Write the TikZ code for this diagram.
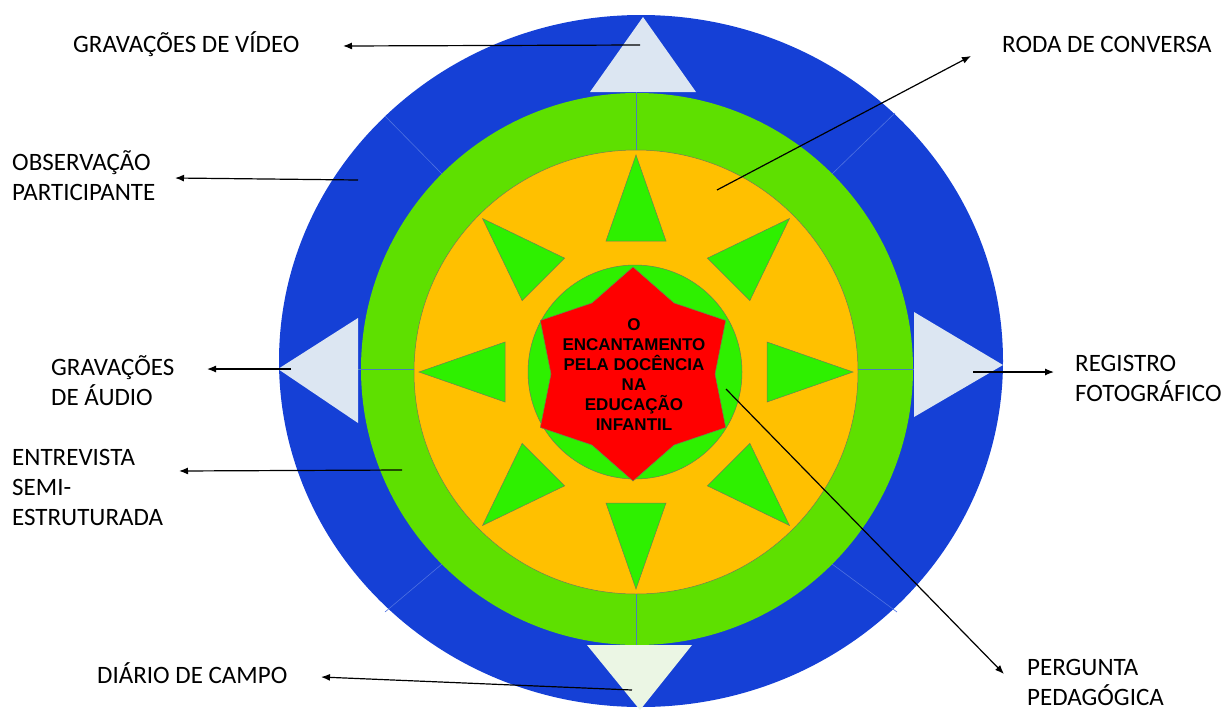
\documentclass[tikz,border=0pt]{standalone}
\usepackage{fontspec}
\setmainfont{Carlito}
\newfontfamily\arialb{Liberation Sans}[BoldFont={Liberation Sans Bold}]
\usetikzlibrary{arrows.meta}
\definecolor{ringblue}{HTML}{1540D6}
\definecolor{ringgreen}{HTML}{5EE000}
\definecolor{ringorange}{HTML}{FFC000}
\definecolor{brightgreen}{HTML}{2EF000}
\definecolor{lightblue}{HTML}{DCE6F2}
\definecolor{lightgreen}{HTML}{EBF6E4}
\definecolor{sepline}{HTML}{4A7EBB}
\definecolor{faintline}{HTML}{4F72E2}
\definecolor{outl}{HTML}{6F7F55}
\tikzset{
  lbl/.style={font=\fontsize{25}{30}\selectfont, align=left, inner sep=0pt, anchor=base west},
  arr/.style={draw=black, line width=1.2pt, -{Latex[length=9pt,width=7pt]}},
  tri/.style={fill=brightgreen, draw=outl, line width=0.5pt},
  sep/.style={draw=sepline, line width=0.7pt},
  faint/.style={draw=faintline, line width=0.6pt}
}
\begin{document}
\begin{tikzpicture}[x=1pt,y=-1pt]
\useasboundingbox (0,0) rectangle (1227,710);
% rings
\fill[ringblue] (641,361) ellipse [x radius=362, y radius=346];
\fill[ringgreen] (637,369) circle [radius=276];
\filldraw[fill=ringorange, draw=outl, line width=0.5pt] (636,372) circle [radius=222];
% faint separators in blue ring
\draw[faint] (442,174) -- (385,116);
\draw[faint] (832,174) -- (895,113);
\draw[faint] (442,564) -- (385,612);
\draw[faint] (832,564) -- (897,612);
% separator lines in green ring
\draw[sep] (636,92) -- (636,150);
\draw[sep] (636,594) -- (636,645);
\draw[sep] (358,369) -- (414,369);
\draw[sep] (858,369) -- (914,369);
% light triangles
\fill[lightblue] (643,17) -- (590,92) -- (696,92) -- cycle;
\fill[lightblue] (278,369) -- (358,318) -- (358,423) -- cycle;
\fill[lightblue] (1003,365) -- (914,312) -- (914,417) -- cycle;
\fill[lightgreen] (640,710) -- (587,645) -- (692,645) -- cycle;
% green triangles in orange ring
\begin{scope}[shift={(636,372)}]
  \foreach \a in {0,45,...,315}{
    \begin{scope}[rotate=\a]
      \draw[tri] (217,0) -- (131,30) -- (131,-30) -- cycle;
    \end{scope}
  }
\end{scope}
% inner circle and star
\filldraw[fill=brightgreen, draw=outl, line width=0.5pt] (635,372) circle [radius=107];
\begin{scope}[shift={(633,374)}]
  \filldraw[fill=red, draw=outl, line width=0.5pt]
    (90:107) -- (60:82) -- (30:107) -- (0:82) -- (-30:107) -- (-60:82) --
    (-90:107) -- (-120:82) -- (-150:107) -- (180:82) -- (150:107) -- (120:82) -- cycle;
\end{scope}
\node[font=\arialb\bfseries\fontsize{17}{20}\selectfont, align=center, inner sep=0pt] (core) at (634,375)
  {O\\ENCANTAMENTO\\PELA DOCÊNCIA\\NA\\EDUCAÇÃO\\INFANTIL};
% labels (anchor at baseline of last line)
\node[lbl] (video) at (73,52) {GRAVAÇÕES DE VÍDEO};
\node[lbl] (obs) at (12,200) {OBSERVAÇÃO\\PARTICIPANTE};
\node[lbl] (audio) at (51,405) {GRAVAÇÕES\\DE ÁUDIO};
\node[lbl] (entr) at (12,525) {ENTREVISTA\\SEMI-\\ESTRUTURADA};
\node[lbl] (diario) at (97,683) {DIÁRIO DE CAMPO};
\node[lbl] (roda) at (1002,52) {RODA DE CONVERSA};
\node[lbl] (reg) at (1075,401) {REGISTRO\\FOTOGRÁFICO};
\node[lbl] (perg) at (1027,705) {PERGUNTA\\PEDAGÓGICA};
% connector endpoints
\coordinate (sVideo) at (640,45);  \coordinate (tVideo) at (343,46);
\coordinate (sObs) at (358,180);   \coordinate (tObs) at (175,178);
\coordinate (sAudio) at (291,369); \coordinate (tAudio) at (207,369);
\coordinate (sEntr) at (402,470);  \coordinate (tEntr) at (179,471);
\coordinate (sDiario) at (632,690);\coordinate (tDiario) at (321,677);
\coordinate (sRoda) at (717,190);  \coordinate (tRoda) at (971,56);
\coordinate (sReg) at (973,372);   \coordinate (tReg) at (1054,372);
\coordinate (sPerg) at (726,389);  \coordinate (tPerg) at (1004,674);
\draw[arr] (sVideo) -- (tVideo);
\draw[arr] (sObs) -- (tObs);
\draw[arr] (sAudio) -- (tAudio);
\draw[arr] (sEntr) -- (tEntr);
\draw[arr] (sDiario) -- (tDiario);
\draw[arr] (sRoda) -- (tRoda);
\draw[arr] (sReg) -- (tReg);
\draw[arr] (sPerg) -- (tPerg);
\end{tikzpicture}
\end{document}
